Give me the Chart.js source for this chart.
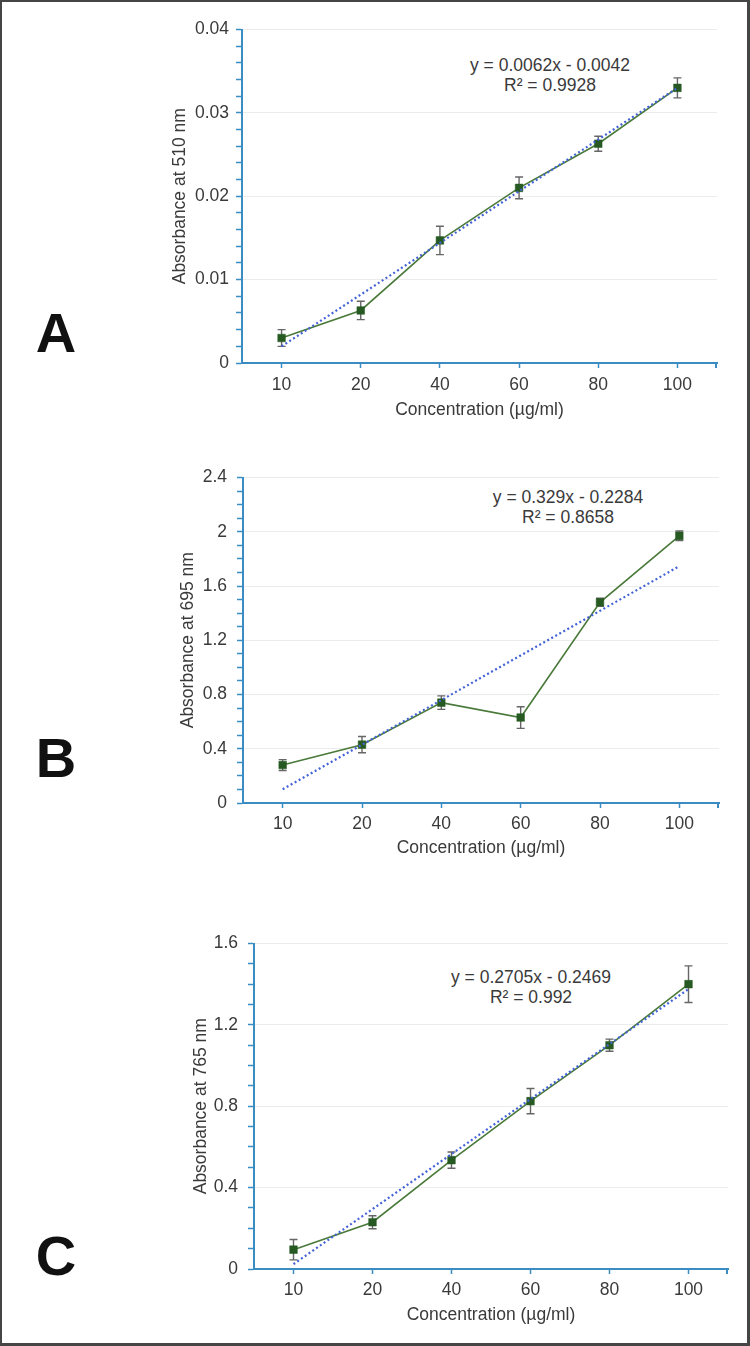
<!DOCTYPE html>
<html>
<head>
<meta charset="utf-8">
<script src="https://cdn.jsdelivr.net/npm/chart.js@4.4.1/dist/chart.umd.min.js"></script>
<style>
  html, body { margin: 0; padding: 0; background: #fff; }
  body { width: 750px; height: 1346px; position: relative; overflow: hidden;
         font-family: "Liberation Sans", Arial, sans-serif; }
  #frame { position: absolute; left: 0; top: 0; width: 750px; height: 1346px;
           box-sizing: border-box; border: 2px solid #454545; border-right-width: 3px; border-bottom-width: 3px; pointer-events: none; }
  canvas { position: absolute; }
  .eq { position: absolute; transform: translateX(-50%); text-align: center; white-space: nowrap;
        font-size: 17.5px; line-height: 20px; color: #3a3a3a; }
  .panel { position: absolute; font-weight: bold; font-size: 56px; line-height: 56px; color: #111;
           transform: translateX(-50%); }
</style>
</head>
<body>
<div id="frame"></div>

<div class="panel" style="left:56px; top:305px;">A</div>
<div class="panel" style="left:56px; top:730px;">B</div>
<div class="panel" style="left:56px; top:1228px;">C</div>

<div class="eq" style="left:550px; top:55px;">y = 0.0062x - 0.0042<br>R² = 0.9928</div>
<div class="eq" style="left:568px; top:487px;">y = 0.329x - 0.2284<br>R² = 0.8658</div>
<div class="eq" style="left:531px; top:967px;">y = 0.2705x - 0.2469<br>R² = 0.992</div>

<canvas id="cA"></canvas>
<canvas id="cB"></canvas>
<canvas id="cC"></canvas>

<script>
// ---------------- DATA ----------------
const categories = ['10', '20', '40', '60', '80', '100'];

const absA = [0.0030, 0.0063, 0.0147, 0.0210, 0.0263, 0.0330];
const errA = [0.0010, 0.0011, 0.0017, 0.0013, 0.0009, 0.0012];
const trendA = [0.0020, null, null, null, null, 0.0330];

const absB = [0.28, 0.43, 0.74, 0.63, 1.48, 1.97];
const errB = [0.04, 0.06, 0.05, 0.08, 0.03, 0.035];
const trendB = [0.101, null, null, null, null, 1.746];

const absC = [0.095, 0.23, 0.535, 0.825, 1.10, 1.40];
const errC = [0.05, 0.032, 0.04, 0.062, 0.03, 0.09];
const trendC = [0.024, null, null, null, null, 1.376];

const yTitleA = 'Absorbance at 510 nm';
const yTitleB = 'Absorbance at 695 nm';
const yTitleC = 'Absorbance at 765 nm';
const xTitle = 'Concentration (µg/ml)';

// ---------------- STYLE ----------------
const FONT = '"Liberation Sans", Arial, sans-serif';
const AXIS_BLUE = '#3a8cc2';
const TEXT = '#3a3a3a';
const LINE_GREEN = '#4a7a3a';
const MARK_GREEN = '#275a22';
const TREND_BLUE = '#4462d8';
const ERR_GRAY = '#666666';

const errorBarPlugin = {
  id: 'errorBars',
  beforeDatasetsDraw(chart) {
    const ctx = chart.ctx;
    const ys = chart.scales.y;
    chart.data.datasets.forEach((ds, i) => {
      if (!ds.errors) return;
      const meta = chart.getDatasetMeta(i);
      ctx.save();
      ctx.strokeStyle = ERR_GRAY;
      ctx.lineWidth = 1.4;
      meta.data.forEach((pt, j) => {
        const v = ds.data[j], e = ds.errors[j];
        if (v == null || e == null) return;
        const yt = ys.getPixelForValue(v + e);
        const yb = ys.getPixelForValue(v - e);
        const x = pt.x, cap = 4;
        ctx.beginPath();
        ctx.moveTo(x, yt); ctx.lineTo(x, yb);
        ctx.moveTo(x - cap, yt); ctx.lineTo(x + cap, yt);
        ctx.moveTo(x - cap, yb); ctx.lineTo(x + cap, yb);
        ctx.stroke();
      });
      ctx.restore();
    });
  },
  afterDraw(chart) {
    // end tick at right end of the category axis
    const xs = chart.scales.x;
    const ctx = chart.ctx;
    ctx.save();
    ctx.strokeStyle = AXIS_BLUE;
    ctx.lineWidth = 2;
    ctx.beginPath();
    ctx.moveTo(xs.right - 1, xs.top);
    ctx.lineTo(xs.right - 1, xs.top + 5);
    ctx.stroke();
    ctx.restore();
  }
};

function makeChart(id, cfg) {
  const cv = document.getElementById(id);
  cv.width = cfg.w; cv.height = cfg.h;
  cv.style.left = cfg.left + 'px';
  cv.style.top = cfg.top + 'px';
  cv.style.width = cfg.w + 'px';
  cv.style.height = cfg.h + 'px';

  const isMajor = v => Math.abs(v / cfg.major - Math.round(v / cfg.major)) < 1e-6;

  return new Chart(cv, {
    type: 'line',
    data: {
      labels: categories,
      datasets: [
        {
          label: 'trend',
          data: cfg.trend,
          spanGaps: true,
          borderColor: TREND_BLUE,
          borderWidth: 2.2,
          borderDash: [2, 2.6],
          pointRadius: 0,
          fill: false,
          order: 0
        },
        {
          label: 'absorbance',
          data: cfg.values,
          errors: cfg.errors,
          borderColor: LINE_GREEN,
          borderWidth: 1.6,
          pointStyle: 'rect',
          pointRadius: 5.4,
          pointBackgroundColor: MARK_GREEN,
          pointBorderColor: MARK_GREEN,
          pointBorderWidth: 0.5,
          fill: false,
          tension: 0,
          order: 1
        }
      ]
    },
    options: {
      responsive: false,
      animation: false,
      devicePixelRatio: 1,
      layout: { padding: { left: 0, right: 15, top: 15, bottom: 0 } },
      plugins: { legend: { display: false }, tooltip: { enabled: false } },
      scales: {
        x: {
          type: 'category',
          offset: true,
          grid: { drawOnChartArea: false, drawTicks: true, tickLength: 5, tickColor: AXIS_BLUE, tickWidth: 1.5, offset: false },
          border: { display: true, color: AXIS_BLUE, width: 2 },
          ticks: { color: TEXT, font: { family: FONT, size: 17.5 }, padding: cfg.xPad, autoSkip: false, maxRotation: 0 },
          title: { display: true, text: xTitle, color: TEXT, font: { family: FONT, size: 17.5 }, padding: { top: 4, bottom: 4 } },
          afterFit: s => { s.height = cfg.xH; }
        },
        y: {
          type: 'linear',
          min: 0,
          max: cfg.max,
          grid: {
            drawTicks: true,
            tickLength: 6,
            tickColor: AXIS_BLUE,
            tickWidth: 1.5,
            lineWidth: 1,
            color: c => (c.tick && isMajor(c.tick.value) && c.tick.value !== 0) ? '#ececec' : 'rgba(0,0,0,0)'
          },
          border: { display: true, color: AXIS_BLUE, width: 2 },
          ticks: {
            stepSize: cfg.minor,
            maxTicksLimit: 200,
            autoSkip: false,
            color: TEXT,
            padding: cfg.yPad,
            font: { family: FONT, size: 17.5 },
            callback: v => isMajor(v) ? String(Number(v.toFixed(4))) : ''
          },
          title: { display: true, text: cfg.yTitle, color: TEXT, font: { family: FONT, size: 17.5 }, padding: { top: 4, bottom: 4 } },
          afterFit: s => { s.width = cfg.yW; }
        }
      }
    },
    plugins: [errorBarPlugin]
  });
}

makeChart('cA', { left: 166, top: 12, w: 566, h: 413, yW: 76, xH: 62, xPad: 7, yPad: 7,
  values: absA, errors: errA, trend: trendA, max: 0.04, major: 0.01, minor: 0.002, yTitle: yTitleA });
makeChart('cB', { left: 174, top: 457, w: 560, h: 406, yW: 69, xH: 60, xPad: 6, yPad: 10,
  values: absB, errors: errB, trend: trendB, max: 2.4, major: 0.4, minor: 0.1, yTitle: yTitleB });
makeChart('cC', { left: 187, top: 923, w: 556, h: 407, yW: 67, xH: 61, xPad: 6, yPad: 10,
  values: absC, errors: errC, trend: trendC, max: 1.6, major: 0.4, minor: 0.1, yTitle: yTitleC });
</script>
</body>
</html>
